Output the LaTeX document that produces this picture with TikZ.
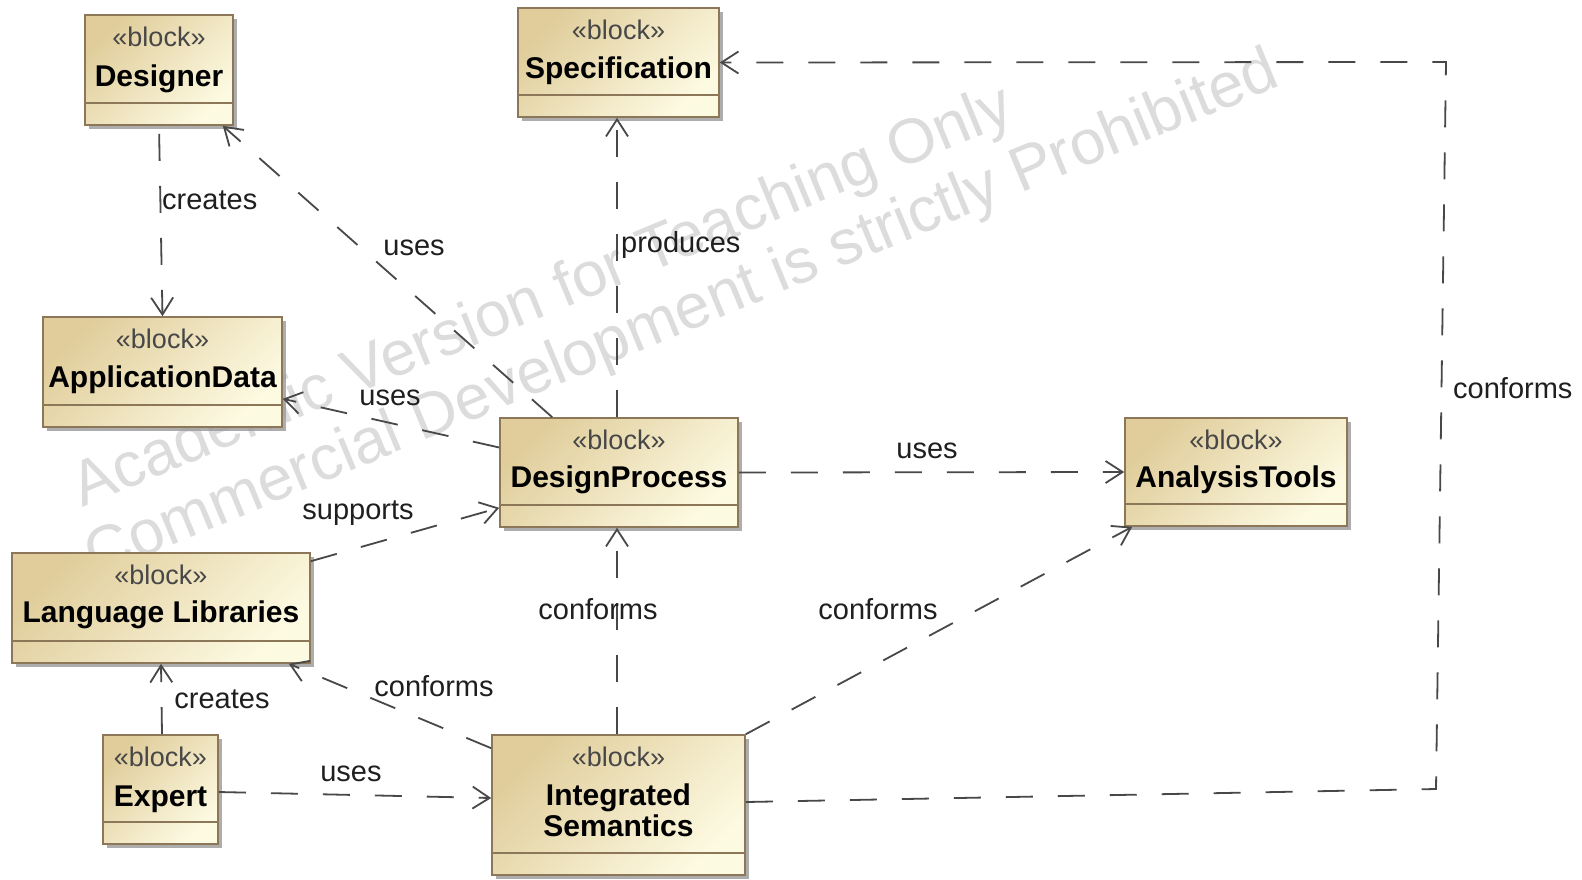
\documentclass[tikz,border=0pt]{standalone}
\usepackage{fontspec}
\setmainfont{Liberation Sans}
\usetikzlibrary{arrows.meta,shadows,calc}
\definecolor{blkA}{RGB}{224,205,155}
\definecolor{blkB}{RGB}{253,250,226}
\definecolor{blkD}{RGB}{140,120,88}
\definecolor{lnC}{RGB}{72,72,72}
\definecolor{wmC}{RGB}{220,220,220}
\tikzset{
  blk/.style={draw=blkD, line width=1.6pt, inner sep=0pt,
    top color=blkA, bottom color=blkB, shading angle=45,
    drop shadow={shadow xshift=4pt, shadow yshift=-4pt, fill=black!40, opacity=0.8}},
  comp/.style={draw=blkD, line width=1.4pt},
  stereo/.style={font=\fontsize{27}{29}\selectfont, text=black!72, inner sep=0pt, anchor=base},
  bname/.style={font=\fontsize{30}{31}\selectfont\bfseries, inner sep=0pt, align=center, anchor=base},
  lbl/.style={font=\fontsize{29}{31}\selectfont, inner sep=0pt, text=black!88},
  wmark/.style={font=\fontsize{63}{65}\selectfont, text=wmC, inner sep=0pt, anchor=base west, rotate=22.5},
  dep/.style={draw=lnC, line width=1.8pt, dash pattern=on 27pt off 25pt,
    -{Straight Barb[length=17pt,width=22pt,line width=1.8pt]}},
}
% #1 name, #2 left, #3 top, #4 right, #5 bottom, #6 label, #7 label (last line) baseline offset from top
\newcommand{\umlblk}[7]{%
  \node[blk, minimum width=#4pt-#2pt, minimum height=#5pt-#3pt] (#1) at ({(#2+#4)/2},{(#3+#5)/2}) {};
  \draw[comp] ([yshift=23pt]#1.south west) -- ([yshift=23pt]#1.south east);
  \node[stereo] (#1-st) at ([yshift=-32pt]#1.north) {«block»};
  \node[bname] (#1-nm) at ([yshift=-#7pt]#1.north) {#6};
}
\begin{document}
\begin{tikzpicture}[x=1pt,y=-1pt]
\useasboundingbox (0,0) rectangle (1582,879);
\fill[white] (0,0) rectangle (1582,879);

% watermark
\node[wmark] (wm1) at (82,508) {Academic Version for Teaching Only};
\node[wmark] (wm2) at (95,577) {Commercial Development is strictly Prohibited};

% blocks
\umlblk{designer}{85}{15}{233}{125}{Designer}{72}
\umlblk{spec}{518}{8}{719}{117}{Specification}{71}
\umlblk{appdata}{43}{317}{282}{427}{ApplicationData}{71}
\umlblk{dp}{500}{418}{738}{527}{DesignProcess}{70}
\umlblk{at}{1125}{418}{1347}{526}{AnalysisTools}{70}
\umlblk{ll}{12}{553}{310}{663}{Language Libraries}{70}
\umlblk{expert}{103}{735}{218}{844}{Expert}{72}
\umlblk{is}{492}{735}{745}{875}{Integrated\\Semantics}{102}

% helper coordinates
\coordinate (c1) at (1436,789);
\coordinate (c2) at (1446,62);

% connectors
\draw[dep, shorten <=8pt] (designer.south) -- (appdata.north);
\node[lbl, anchor=west] (l1) at (162,200) {creates};

\draw[dep] ([xshift=53pt]dp.north west) -- ([xshift=-11pt]designer.south east);
\node[lbl] (l2) at (414,248) {uses};

\draw[dep] ([yshift=25pt]dp.west) -- ([yshift=29pt]appdata.south east);
\node[lbl] (l3) at (390,398) {uses};

\draw[dep] ([xshift=-2pt]dp.north) -- ([xshift=-1.5pt]spec.south);
\node[lbl, anchor=west] (l4) at (621,245) {produces};

\draw[dep] ([yshift=-9pt]ll.north east) -- ([yshift=20pt]dp.south west);
\node[lbl] (l5) at (358,513) {supports};

\draw[dep] (dp.east) -- (at.west);
\node[lbl] (l6) at (927,451) {uses};

\draw[dep] ([xshift=-1.5pt]is.north) -- ([xshift=-2pt]dp.south);
\node[lbl] (l7) at (598,609) {conforms};

\draw[dep] (is.north east) -- ([xshift=8pt]at.south west);
\node[lbl] (l8) at (878,609) {conforms};

\draw[dep] ([yshift=-14pt]is.north west) -- ([xshift=-22pt]ll.south east);
\node[lbl] (l9) at (434,686) {conforms};

\draw[dep] ([xshift=1.5pt]expert.north) -- (ll.south);
\node[lbl] (l10) at (222,699) {creates};

\draw[dep] ([yshift=-2.5pt]expert.east) -- ([yshift=7pt]is.west);
\node[lbl] (l11) at (351,774) {uses};

\draw[dep] ([yshift=3pt]is.east) -- (c1) -- (c2) -- (spec.east);
\node[lbl, anchor=west] (l12) at (1453,388) {conforms};
\end{tikzpicture}
\end{document}
